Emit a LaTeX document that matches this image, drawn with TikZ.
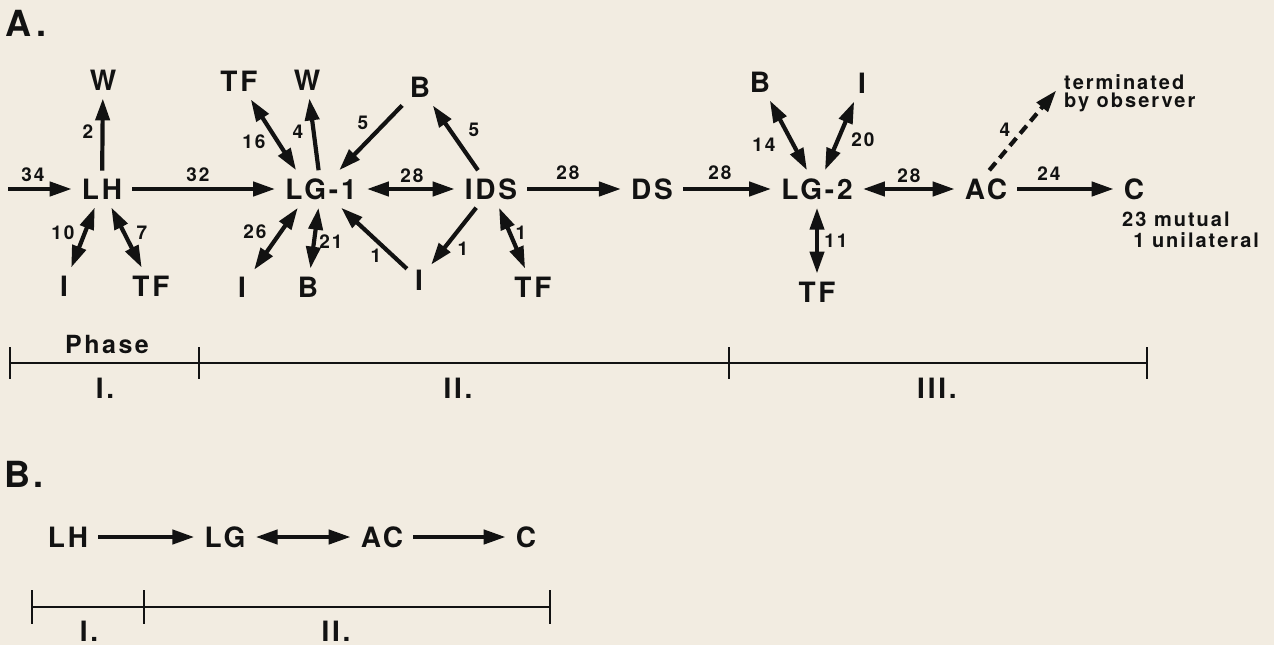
\documentclass[tikz,border=0pt]{standalone}
\usepackage{fontspec}
\usetikzlibrary{arrows.meta}
\newfontfamily\hv[LetterSpace=10]{TeX Gyre Heros}
\newcommand\labfont{\hv\bfseries\fontsize{28}{30}\selectfont}
\newcommand\numfont{\hv\bfseries\fontsize{19}{21}\selectfont}
\newcommand\notefont{\hv\bfseries\fontsize{20}{18}\selectfont}
\newcommand\cnotefont{\hv\bfseries\fontsize{20}{21}\selectfont}
\newcommand\hdfont{\hv\bfseries\fontsize{36}{38}\selectfont}
\newcommand\phfont{\hv\bfseries\fontsize{25}{27}\selectfont}
\definecolor{bg}{RGB}{242,236,225}
\definecolor{ink}{RGB}{18,18,18}
\tikzset{
  lab/.style={font=\labfont, text=ink, inner xsep=10pt, inner ysep=8pt},
  leaf/.style={font=\labfont, text=ink, inner sep=8pt},
  num/.style={font=\numfont, text=ink, inner sep=0pt},
  note/.style={font=\notefont, text=ink, inner sep=0pt, align=left},
  hd/.style={font=\hdfont, text=ink, inner sep=0pt},
  phl/.style={font=\labfont, text=ink, inner sep=0pt},
  tip/.style={},
  arr/.style={draw=ink, line width=4.2pt, -{Triangle[length=22pt,width=14pt]}},
  darr/.style={draw=ink, line width=4.2pt, {Triangle[length=22pt,width=14pt]}-{Triangle[length=22pt,width=14pt]}},
  tl/.style={draw=ink, line width=2.6pt},
}
\begin{document}
\begin{tikzpicture}[x=1pt,y=-1pt]
\fill[bg] (0,0) rectangle (1274,645);
\useasboundingbox (0,0) rectangle (1274,645);
% ---------- A ----------
\node[hd] (hA) at (26,23) {A.};
\coordinate (in34) at (8,189);
\node[lab] (lh) at (102,189) {LH};
\node[leaf] (w1) at (103,80) {W};
\node[leaf] (i1) at (64,286) {I};
\node[leaf] (tf1) at (151,286) {TF};
\node[lab] (lg1) at (321,189) {LG-1};
\node[leaf] (tf2) at (239,81) {TF};
\node[leaf] (w2) at (307,80) {W};
\node[leaf] (b2) at (420,87) {B};
\node[leaf] (i2) at (242,287) {I};
\node[leaf] (b3) at (308,287) {B};
\node[leaf] (i3) at (419,280) {I};
\node[lab] (ids) at (491,189) {IDS};
\node[leaf] (tf3) at (533,287) {TF};
\node[lab] (ds) at (652,189) {DS};
\node[lab] (lg2) at (817,189) {LG-2};
\node[leaf] (b4) at (760,82) {B};
\node[leaf] (i4) at (862,83) {I};
\node[leaf] (tf4) at (817,292) {TF};
\node[lab] (ac) at (986,189) {AC};
\node[lab] (c) at (1134,189) {C};
\node[note, anchor=north west] (term) at (1064,74) {terminated\\by observer};
\node[note, font=\cnotefont, anchor=north west] (cnote) at (1122,212) {23 mutual\\\phantom{2}1 unilateral};

\draw[arr] (in34) -- (lh);
\draw[arr] (lh) -- (w1);
\draw[darr] (lh) -- (i1);
\draw[darr] (lh) -- (tf1);
\draw[arr] (lh) -- (lg1);
\draw[darr] (lg1.143) -- (tf2);
\draw[arr] (lg1) -- (w2);
\draw[arr] (b2) -- (lg1);
\draw[darr] (lg1.219) -- (i2);
\draw[darr] (lg1) -- (b3);
\draw[arr] (i3) -- (lg1);
\draw[darr] (lg1) -- (ids);
\draw[arr] (ids) -- (b2);
\draw[arr] (ids) -- (i3);
\draw[darr] (ids) -- (tf3);
\draw[arr] (ids) -- (ds);
\draw[arr] (ds) -- (lg2);
\draw[darr] (lg2) -- (b4);
\draw[darr] (lg2) -- (i4);
\draw[darr] (lg2) -- (tf4);
\draw[darr] (lg2) -- (ac);
\draw[arr] (ac) -- (c);
\draw[arr, dash pattern=on 10pt off 6pt, shorten >=12pt] (ac.80) -- (term.170);

\node[num] (n34) at (33,175) {34};
\node[num] (n2) at (88,132) {2};
\node[num] (n32) at (198,175) {32};
\node[num] (n10) at (63,233) {10};
\node[num] (n7) at (142,233) {7};
\node[num] (n16) at (254,142) {16};
\node[num] (n4) at (298,132) {4};
\node[num] (n5a) at (363,123) {5};
\node[num] (n28a) at (412,176) {28};
\node[num] (n5b) at (474,130) {5};
\node[num] (n26) at (255,232) {26};
\node[num] (n21) at (331,242) {21};
\node[num] (n1a) at (376,256) {1};
\node[num] (n1b) at (463,249) {1};
\node[num] (n1c) at (521,233) {1};
\node[num] (n28b) at (568,173) {28};
\node[num] (n28c) at (720,173) {28};
\node[num] (n14) at (764,145) {14};
\node[num] (n20) at (863,140) {20};
\node[num] (n11) at (836,241) {11};
\node[num] (n28d) at (909,176) {28};
\node[num] (n24) at (1049,174) {24};
\node[num] (n4b) at (1005,130) {4};

% timeline A
\coordinate (ta0) at (10,363);
\coordinate (ta1) at (199,363);
\coordinate (ta2) at (729,363);
\coordinate (ta3) at (1147,363);
\draw[tl] (ta0) -- (ta3);
\foreach \p in {ta0,ta1,ta2,ta3} \draw[tl] (\p) ++(0,-16) -- ++(0,32);
\node[font=\phfont, text=ink, inner sep=0pt] (phase) at (107,344) {Phase};
\node[phl] (pI) at (105,388) {I.};
\node[phl] (pII) at (458,388) {II.};
\node[phl] (pIII) at (937,388) {III.};

% ---------- B ----------
\node[hd] (hB) at (24,474) {B.};
\node[lab] (lhB) at (68,537) {LH};
\node[lab] (lgB) at (225,537) {LG};
\node[lab] (acB) at (382,537) {AC};
\node[lab] (cB) at (526,537) {C};
\draw[arr] (lhB) -- (lgB);
\draw[darr] (lgB) -- (acB);
\draw[arr] (acB) -- (cB);

\coordinate (tb0) at (32,607);
\coordinate (tb1) at (144,607);
\coordinate (tb2) at (550,607);
\draw[tl] (tb0) -- (tb2);
\foreach \p in {tb0,tb1,tb2} \draw[tl] (\p) ++(0,-17) -- ++(0,34);
\node[phl] (qI) at (89,631) {I.};
\node[phl] (qII) at (336,631) {II.};
\end{tikzpicture}
\end{document}
